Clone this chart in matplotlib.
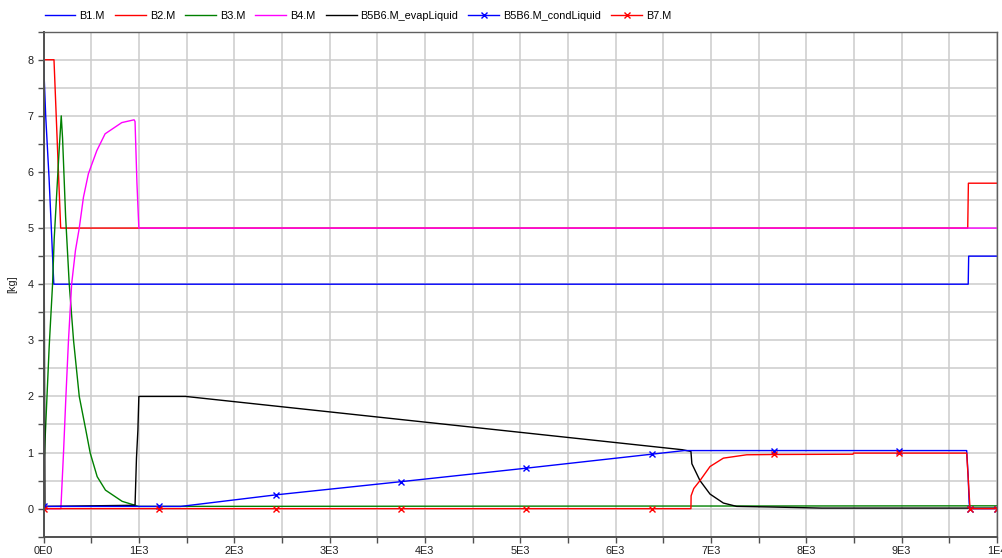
import numpy as np
import matplotlib
matplotlib.use("Agg")
import matplotlib.pyplot as plt
from matplotlib.ticker import FixedLocator, FixedFormatter, MultipleLocator

plt.rcParams['font.family'] = ['Liberation Sans', 'DejaVu Sans']

# ---------------- data ----------------
b1_t = [0, 23, 58, 82, 108, 9698, 9703, 10000]
b1_v = [8.0, 7.0, 5.9, 5.0, 4.0, 4.0, 4.5, 4.5]

b2_t = [0, 110, 180, 9693, 9700, 10000]
b2_v = [8.0, 8.0, 5.0, 5.0, 5.8, 5.8]

b3_t = [0, 8, 60, 95, 112, 161, 186, 200, 232, 270, 315, 375, 444, 490,
        563, 650, 825, 960, 1000, 10000]
b3_v = [0.05, 0.9, 2.9, 4.0, 4.8, 6.3, 7.0, 6.6, 5.2, 4.0, 3.0, 2.0, 1.4, 0.99,
        0.57, 0.33, 0.13, 0.06, 0.04, 0.05]

b4_t = [0, 182, 210, 235, 262, 295, 335, 375, 419, 471, 559, 646, 821, 950,
        960, 980, 1000, 10000]
b4_v = [0.0, 0.0, 1.0, 2.0, 3.0, 4.0, 4.6, 5.0, 5.55, 5.97, 6.38, 6.68, 6.88, 6.93,
        6.9, 5.8, 5.0, 5.0]

evap_t = [0, 8, 15, 960, 975, 990, 1000, 1490, 6700, 6790, 6800, 6885, 6990,
          7130, 7270, 7610, 8160, 10000]
evap_v = [7.8, 4.0, 0.04, 0.06, 0.9, 1.4, 2.0, 2.0, 1.05, 1.02, 0.8, 0.5, 0.26,
          0.1, 0.04, 0.03, 0.01, 0.01]

cond_t = [0, 1212, 1440, 2434, 3745, 5056, 6377, 6720, 7660, 8971, 9682, 9697,
          9708, 9717, 10000]
cond_v = [0.04, 0.04, 0.04, 0.245, 0.48, 0.72, 0.97, 1.035, 1.035, 1.035, 1.035, 0.6,
          0.1, 0.0, 0.0]

b7_t = [0, 1212, 2434, 3745, 5056, 6377, 6790, 6792, 6820, 6885, 6990, 7130, 7375,
        7660, 8490, 8495, 8971, 9682, 9697, 9717, 10000]
b7_v = [0.0, 0.0, 0.0, 0.0, 0.0, 0.0, 0.0, 0.23, 0.36, 0.5, 0.75, 0.9, 0.96,
        0.965, 0.97, 0.99, 0.99, 0.99, 0.57, 0.0, 0.0]

marker_times = [0, 1212, 2434, 3745, 5056, 6377, 7660, 8971, 9717, 10000]

x_ticks = [0, 1000, 2000, 3000, 4000, 5000, 6000, 7000, 8000, 9000, 10000]
x_tick_labels = ["0E0", "1E3", "2E3", "3E3", "4E3", "5E3", "6E3", "7E3", "8E3", "9E3", "1E4"]
y_ticks = [0, 1, 2, 3, 4, 5, 6, 7, 8]
y_tick_labels = ["0", "1", "2", "3", "4", "5", "6", "7", "8"]

series = [
    ("B1.M", b1_t, b1_v, "#0000ff", False),
    ("B2.M", b2_t, b2_v, "#ff0000", False),
    ("B3.M", b3_t, b3_v, "#008000", False),
    ("B4.M", b4_t, b4_v, "#ff00ff", False),
    ("B5B6.M_evapLiquid", evap_t, evap_v, "#000000", False),
    ("B5B6.M_condLiquid", cond_t, cond_v, "#0000ff", True),
    ("B7.M", b7_t, b7_v, "#ff0000", True),
]

# ---------------- figure ----------------
fig = plt.figure(figsize=(10.02, 5.58), dpi=100)
ax = fig.add_axes([43.5 / 1002, 1 - 536.7 / 558, (997 - 43.5) / 1002, (536.7 - 31.7) / 558])

handles = []
for name, t, v, col, mark in series:
    t = np.asarray(t, dtype=float)
    v = np.asarray(v, dtype=float)
    kw = {}
    if mark:
        idx = np.nonzero(np.isin(t, marker_times))[0].tolist()
        kw = dict(marker='x', markersize=5.0, markeredgewidth=1.0, markevery=idx)
    h, = ax.plot(t, v, color=col, lw=1.0, label=name, **kw)
    handles.append(h)

ax.set_xlim(0, 10000)
ax.set_ylim(-0.5, 8.5)

ax.xaxis.set_major_locator(FixedLocator(x_ticks))
ax.xaxis.set_major_formatter(FixedFormatter(x_tick_labels))
ax.xaxis.set_minor_locator(MultipleLocator(500))
ax.yaxis.set_major_locator(FixedLocator(y_ticks))
ax.yaxis.set_major_formatter(FixedFormatter(y_tick_labels))
ax.yaxis.set_minor_locator(MultipleLocator(0.5))

ax.grid(True, which='both', color='#cccccc', lw=1.1)
ax.set_axisbelow(True)

ax.tick_params(which='both', direction='out', length=4, width=1, color='#505050',
               labelsize=7.8, labelcolor='#202020', pad=3)

for s in ['left', 'bottom']:
    ax.spines[s].set_color('#505050')
    ax.spines[s].set_linewidth(1.4)
for s in ['top', 'right']:
    ax.spines[s].set_color('#606060')
    ax.spines[s].set_linewidth(1.0)

ax.set_ylabel("[kg]", fontsize=7.8, color='#202020')
ax.yaxis.set_label_coords(-0.0275, 0.5)

fig.legend(handles=handles, loc='center left', bbox_to_anchor=(44.5 / 1002, 1 - 16 / 558),
           ncol=7, frameon=False, fontsize=7.8, handlelength=2.86, handletextpad=0.37,
           columnspacing=0.92, borderaxespad=0, borderpad=0, numpoints=1)

fig.savefig("out.png", dpi=100)
